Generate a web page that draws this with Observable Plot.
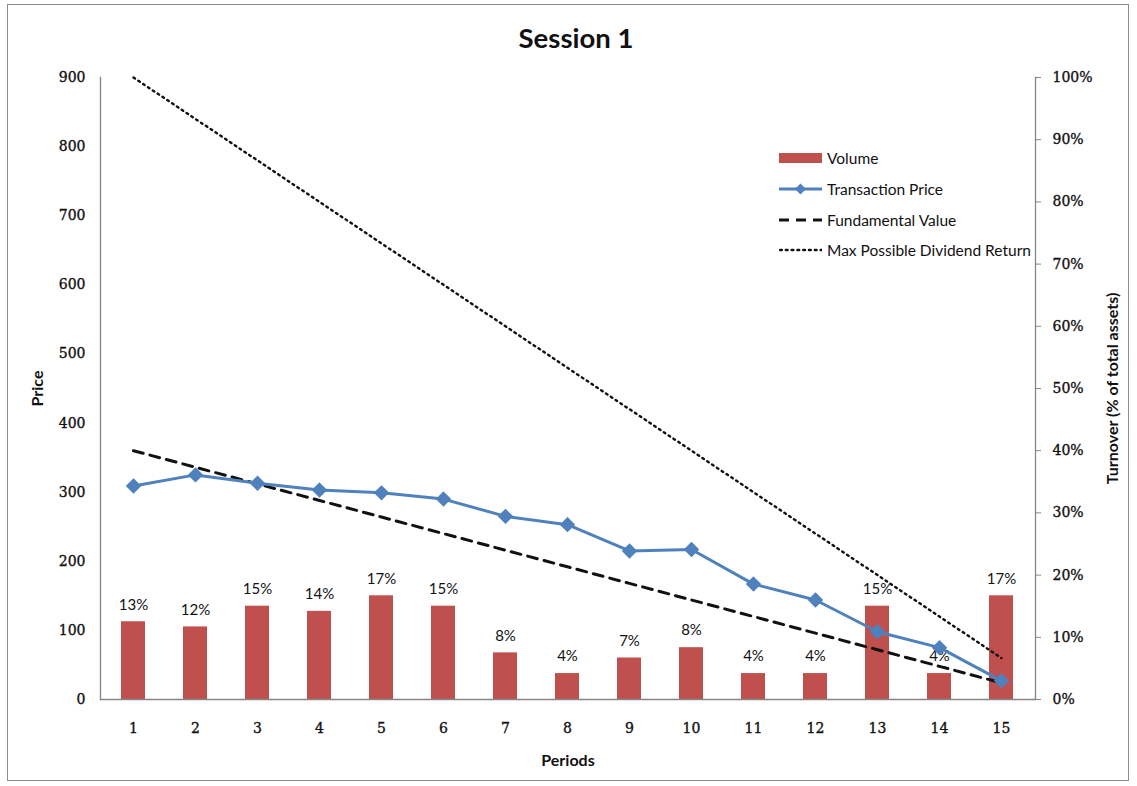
<!DOCTYPE html>
<html>
<head>
<meta charset="utf-8">
<script src="https://cdn.jsdelivr.net/npm/d3@7"></script>
<script src="https://cdn.jsdelivr.net/npm/@observablehq/plot@0.6"></script>
<style>
  html, body { margin: 0; padding: 0; background: #fff; }
  #wrap { position: relative; width: 1137px; height: 786px; overflow: hidden; }
  #border { position: absolute; left: 7px; top: 4px; width: 1122px; height: 777px; border: 1px solid #8c8c8c; box-sizing: border-box; pointer-events: none; }
  #title { position: absolute; left: 0; top: 0; width: 1152px; height: 60px; text-align: center; line-height: 76px; font-family: Lato, "Open Sans", sans-serif; font-weight: bold; font-size: 27.5px; color: #111; }
  #chart { position: absolute; left: 0; top: 60px; }
  #legend { position: absolute; left: 779px; top: 143px; font-family: Lato, "Open Sans", sans-serif; font-size: 15.5px; color: #111; }
  #legend .row { height: 30.7px; display: flex; align-items: center; white-space: nowrap; }
  #legend svg { margin-right: 5px; }
</style>
</head>
<body>
<div id="wrap">
  <div id="title">Session 1</div>
  <div id="chart"></div>
  <div id="legend"></div>
  <div id="border"></div>
</div>
<script>
// ---- data ----
const periods = [1, 2, 3, 4, 5, 6, 7, 8, 9, 10, 11, 12, 13, 14, 15];
const volumePct = [12.5, 11.67, 15, 14.17, 16.67, 15, 7.5, 4.17, 6.67, 8.33, 4.17, 4.17, 15, 4.17, 16.67];
const transactionPrice = [309, 325, 313, 303, 299, 290, 265, 253, 215, 217, 167, 144, 98, 75, 27];
const fundamentalValue = [360, 336, 312, 288, 264, 240, 216, 192, 168, 144, 120, 96, 72, 48, 24];
const maxDividendReturn = [900, 840, 780, 720, 660, 600, 540, 480, 420, 360, 300, 240, 180, 120, 60];
const priceTicks = [0, 100, 200, 300, 400, 500, 600, 700, 800, 900];
const turnoverTicks = [0, 10, 20, 30, 40, 50, 60, 70, 80, 90, 100];

const PRICE_MAX = 900;
const pctToPrice = p => p * PRICE_MAX / 100;

const rows = periods.map((p, i) => ({
  period: p,
  vol: volumePct[i],
  price: transactionPrice[i],
  fv: fundamentalValue[i],
  maxDiv: maxDividendReturn[i]
}));

const BAR = "#C0504D", BLUE = "#4F81BD", AXIS = "#868686";
const tickFont = "'DejaVu Serif', serif";

const chart = Plot.plot({
  width: 1137,
  height: 726,
  marginTop: 17,
  marginBottom: 87,
  marginLeft: 100,
  marginRight: 102,
  style: { fontFamily: "Lato, 'Open Sans', sans-serif", fontSize: "14px", color: "#111", background: "transparent" },
  x: { type: "band", domain: periods, paddingInner: 0.61, paddingOuter: 0.305, align: 0.5 },
  y: { domain: [0, PRICE_MAX] },
  marks: [
    Plot.barY(rows, { x: "period", y: d => pctToPrice(d.vol), fill: BAR }),
    Plot.text(rows, { x: "period", y: d => pctToPrice(d.vol), text: d => Math.round(d.vol) + "%", dy: -17, fill: "#111", fontSize: 15 }),
    Plot.lineY(rows, { x: "period", y: "maxDiv", stroke: "#111", strokeWidth: 2.4, strokeDasharray: "1.8,4", strokeLinecap: "round" }),
    Plot.lineY(rows, { x: "period", y: "fv", stroke: "#111", strokeWidth: 3, strokeDasharray: "10,7" }),
    Plot.lineY(rows, { x: "period", y: "price", stroke: BLUE, strokeWidth: 3 }),
    Plot.dot(rows, { x: "period", y: "price", symbol: "diamond2", r: 6, fill: BLUE, stroke: BLUE }),
    Plot.ruleY([0], { stroke: AXIS, strokeWidth: 1.3 }),
    Plot.frame({ anchor: "left", stroke: AXIS, strokeWidth: 1.3 }),
    Plot.frame({ anchor: "right", stroke: AXIS, strokeWidth: 1.3 }),
    Plot.axisX({ tickSize: 0, tickPadding: 24, fontFamily: tickFont, fontSize: 14, fill: "#111", label: null }),
    Plot.text(["Periods"], { frameAnchor: "bottom", dy: 66, fontWeight: "bold", fontSize: 16, fill: "#111" }),
    Plot.axisY({ anchor: "left", ticks: priceTicks, tickSize: 0, tickPadding: 15, fontFamily: tickFont, fontSize: 14, fill: "#111", label: null }),
    Plot.text(["Price"], { frameAnchor: "left", dx: -63, rotate: -90, textAnchor: "middle", fontWeight: "bold", fontSize: 16, fill: "#111" }),
    Plot.axisY({ anchor: "right", ticks: turnoverTicks.map(pctToPrice), tickFormat: v => Math.round(v * 100 / PRICE_MAX) + "%", tickSize: 5, tickPadding: 12, stroke: AXIS, fontFamily: tickFont, fontSize: 14, fill: "#111", label: null }),
    Plot.text(["Turnover (% of total assets)"], { frameAnchor: "right", dx: 77, rotate: -90, textAnchor: "middle", fontWeight: "bold", fontSize: 16, fill: "#111" })
  ]
});
document.getElementById("chart").appendChild(chart);
// make serif tick labels slightly heavier, as in the reference
d3.select(chart).selectAll("g[aria-label$='tick label'] text").attr("stroke", "#111").attr("stroke-width", 0.35);

// ---- legend (HTML) ----
const legendItems = [
  { label: "Volume", kind: "bar" },
  { label: "Transaction Price", kind: "marker" },
  { label: "Fundamental Value", kind: "dash" },
  { label: "Max Possible Dividend Return", kind: "dot" }
];
const legend = d3.select("#legend");
legendItems.forEach(it => {
  const row = legend.append("div").attr("class", "row");
  const s = row.append("svg").attr("width", 43).attr("height", 14);
  if (it.kind === "bar") s.append("rect").attr("x", 0).attr("y", 2).attr("width", 43).attr("height", 10).attr("fill", BAR);
  if (it.kind === "marker") {
    s.append("line").attr("x1", 0).attr("x2", 43).attr("y1", 7).attr("y2", 7).attr("stroke", BLUE).attr("stroke-width", 3);
    s.append("path").attr("d", "M21.5,1.5L27,7L21.5,12.5L16,7Z").attr("fill", BLUE);
  }
  if (it.kind === "dash") s.append("line").attr("x1", 0).attr("x2", 43).attr("y1", 7).attr("y2", 7).attr("stroke", "#111").attr("stroke-width", 3).attr("stroke-dasharray", "10,7");
  if (it.kind === "dot") s.append("line").attr("x1", 1).attr("x2", 43).attr("y1", 7).attr("y2", 7).attr("stroke", "#111").attr("stroke-width", 2.4).attr("stroke-dasharray", "1.8,4").attr("stroke-linecap", "round");
  row.append("span").text(it.label);
});
</script>
</body>
</html>
